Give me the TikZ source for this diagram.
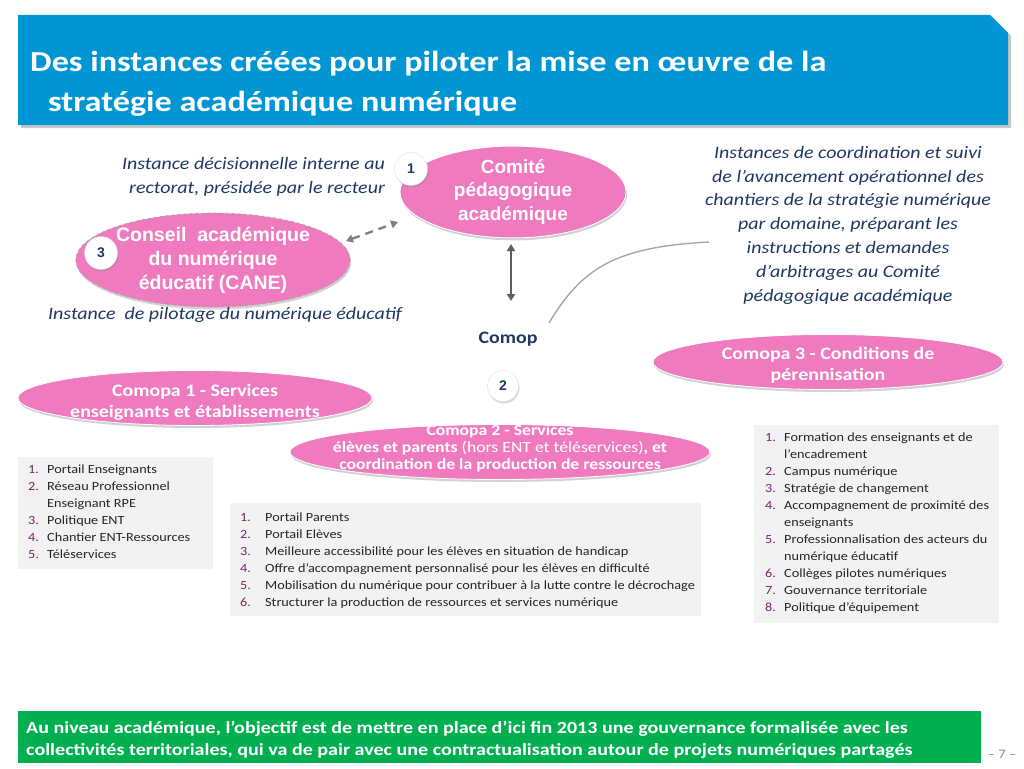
\documentclass[tikz,border=0pt]{standalone}
\usepackage{fontspec}
\setmainfont{Carlito}[FakeStretch=1.14]
\newfontfamily\widef{Carlito}[FakeStretch=1.18]
\newfontfamily\arialf{Liberation Sans}
\usetikzlibrary{shapes.geometric,shadows,arrows.meta}
\definecolor{titleblue}{RGB}{0,150,212}
\definecolor{pinkf}{RGB}{240,122,190}
\definecolor{dblue}{RGB}{31,56,100}
\definecolor{listnum}{RGB}{120,40,110}
\definecolor{boxgray}{RGB}{242,242,242}
\definecolor{greenb}{RGB}{0,176,80}
\definecolor{arrgray}{RGB}{95,95,95}
\newcommand\li[2]{\makebox[19pt][l]{\color{listnum}#1.}#2}
\newcommand\lj[2]{\makebox[25pt][l]{\color{listnum}#1.}#2}
\tikzset{
  pinkell/.style={ellipse, fill=pinkf, draw=white, line width=0.8pt, inner sep=0pt, text=white,
    drop shadow={opacity=0.35, shadow xshift=1pt, shadow yshift=-2.5pt}},
  badge/.style={circle, fill=white, draw=black!12, inner sep=0pt, minimum size=33pt,
    font=\arialf\bfseries\fontsize{14}{16}\selectfont, text=dblue,
    drop shadow={opacity=0.3, shadow xshift=1pt, shadow yshift=-2pt}},
  itxt/.style={font=\itshape\fontsize{17.5}{23.8}\selectfont, text=dblue, inner sep=0pt},
  listbox/.style={fill=boxgray, draw=none, inner sep=0pt, anchor=north west},
  listtxt/.style={font=\fontsize{12.5}{17}\selectfont, text=black!85, inner sep=0pt, align=left, anchor=north west},
  comopatxt/.style={font=\bfseries\fontsize{17.5}{21}\selectfont, align=center, text=white, inner sep=0pt},
}
\begin{document}
\begin{tikzpicture}[x=1pt,y=-1pt]
\useasboundingbox (0,0) rectangle (1024,768);
\fill[white] (0,0) rectangle (1024,768);
% title bar
\fill[black!22] (21,18) -- (993,18) -- (1011,36) -- (1011,128) -- (21,128) -- cycle;
\fill[titleblue] (18,15) -- (990,15) -- (1008,33) -- (1008,125) -- (18,125) -- cycle;
\node[anchor=north west, inner sep=0pt, text=white, align=left,
  font=\widef\bfseries\fontsize{29}{40}\selectfont] (title) at (30,51)
  {Des instances créées pour piloter la mise en œuvre de la\\\hspace*{18pt}stratégie académique numérique};

% ellipses
\node[pinkell, minimum width=226pt, minimum height=80pt, font=\arialf\bfseries\fontsize{19}{23.5}\selectfont, align=center] (comite) at (513,192)
  {Comité\\pédagogique\\académique};
\node[pinkell, draw=black!35, dashed, minimum width=265pt, minimum height=70pt, font=\arialf\bfseries\fontsize{19.5}{24}\selectfont, align=center] (cane) at (213,260)
  {Conseil\ \ académique\\du numérique\\éducatif (CANE)};
\node[pinkell, minimum width=354pt, minimum height=55pt] (comopa1) at (195,398) {};
\node[comopatxt] (comopa1t) at ([yshift=-4pt]comopa1.center)
  {Comopa 1 - Services\\enseignants et établissements};
\node[pinkell, minimum width=420pt, minimum height=55pt] (comopa2) at (500,452) {};
\node[comopatxt, font=\bfseries\fontsize{15.5}{16.8}\selectfont] (comopa2t) at ([yshift=4pt]comopa2.center)
  {Comopa 2 - Services\\élèves et parents {\mdseries (hors ENT et téléservices)}, et\\coordination de la production de ressources};
\node[pinkell, minimum width=350pt, minimum height=55pt] (comopa3) at (828,362) {};
\node[comopatxt] (comopa3t) at ([yshift=-3pt]comopa3.center)
  {Comopa 3 - Conditions de\\pérennisation};

% badges
\node[badge] (b1) at (411,169) {1};
\node[badge, minimum size=31pt] (b2) at (503,386) {2};
\node[badge] (b3) at (101,253) {3};

% texts
\node[itxt, anchor=north east, align=right] (t1) at (385,157)
  {Instance décisionnelle interne au\\rectorat, présidée par le recteur};
\node[itxt, anchor=north west, align=left] (t2) at (48,307)
  {Instance\ \ de pilotage du numérique éducatif};
\node[itxt, anchor=north, align=center] (t3) at (848,146)
  {Instances de coordination et suivi\\de l’avancement opérationnel des\\chantiers de la stratégie numérique\\par domaine, préparant les\\instructions et demandes\\d’arbitrages au Comité\\pédagogique académique};
\node[font=\bfseries\fontsize{17.5}{20}\selectfont, text=dblue, inner sep=0pt] (comop) at (508,339) {Comop};

% connectors
\coordinate (d1) at (346,241);
\coordinate (d2) at (398,222);
\draw[black!50, line width=2.3pt, dash pattern=on 8pt off 6pt, {Triangle[length=7pt,width=8pt]}-{Triangle[length=7pt,width=8pt]}] (d1) -- (d2);
\coordinate (v1) at (511,244);
\coordinate (v2) at (511,301);
\draw[arrgray, line width=2.5pt, {Triangle[length=7pt,width=8pt]}-{Triangle[length=7pt,width=8pt]}] (v1) -- (v2);
\coordinate (c1) at (549,323);
\coordinate (c2) at (709,242);
\draw[black!35, line width=1.4pt] (c1) .. controls (582,268) and (615,247) .. (c2);

% list boxes
\node[listbox, minimum width=195pt, minimum height=112pt] (box1) at (18,457) {};
\node[listtxt] (l1) at (28,465)
  {\li{1}{Portail Enseignants}\\\li{2}{Réseau Professionnel}\\\hspace*{19pt}Enseignant RPE\\\li{3}{Politique ENT}\\\li{4}{Chantier ENT-Ressources}\\\li{5}{Téléservices}};
\node[listbox, minimum width=471pt, minimum height=113pt] (box2) at (230,503) {};
\node[listtxt] (l2) at (240,513)
  {\lj{1}{Portail Parents}\\\lj{2}{Portail Elèves}\\\lj{3}{Meilleure accessibilité pour les élèves en situation de handicap}\\\lj{4}{Offre d’accompagnement personnalisé pour les élèves en difficulté}\\\lj{5}{Mobilisation du numérique pour contribuer à la lutte contre le décrochage}\\\lj{6}{Structurer la production de ressources et services numérique}};
\node[listbox, minimum width=245pt, minimum height=198pt] (box3) at (754,425) {};
\node[listtxt] (l3) at (765,433)
  {\li{1}{Formation des enseignants et de}\\\hspace*{19pt}l’encadrement\\\li{2}{Campus numérique}\\\li{3}{Stratégie de changement}\\\li{4}{Accompagnement de proximité des}\\\hspace*{19pt}enseignants\\\li{5}{Professionnalisation des acteurs du}\\\hspace*{19pt}numérique éducatif\\\li{6}{Collèges pilotes numériques}\\\li{7}{Gouvernance territoriale}\\\li{8}{Politique d’équipement}};

% green box
\node[fill=greenb, minimum width=963pt, minimum height=52pt, inner sep=0pt, anchor=north west] (gbox) at (18,711) {};
\node[anchor=north west, inner sep=0pt, text=white, align=left, font=\widef\bfseries\fontsize{17}{22}\selectfont] (gtxt) at (26,721)
  {Au niveau académique, l’objectif est de mettre en place d’ici fin 2013 une gouvernance formalisée avec les\\collectivités territoriales, qui va de pair avec une contractualisation autour de projets numériques partagés};
\node[font=\fontsize{13}{15}\selectfont, text=black!45, inner sep=0pt] (pnum) at (1002,754) {– 7 –};
\end{tikzpicture}
\end{document}
